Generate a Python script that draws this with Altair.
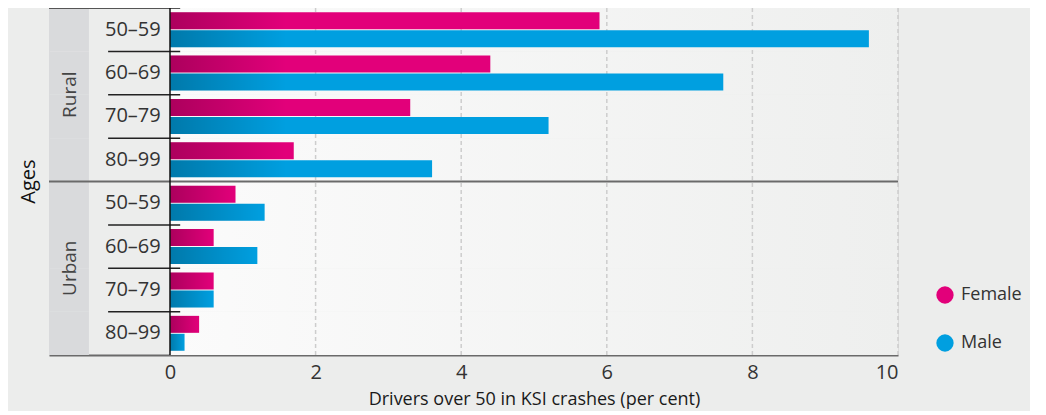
import altair as alt
import pandas as pd

# ---- data ----
groups = ["Rural", "Rural", "Rural", "Rural", "Urban", "Urban", "Urban", "Urban"]
ages = ["50–59", "60–69", "70–79", "80–99", "50–59", "60–69", "70–79", "80–99"]
female = [5.9, 4.4, 3.3, 1.7, 0.9, 0.6, 0.6, 0.4]
male = [9.6, 7.6, 5.2, 3.6, 1.3, 1.2, 0.6, 0.2]
genders = ["Female", "Male"]
x_ticks = [0, 2, 4, 6, 8, 10]
x_title = "Drivers over 50 in KSI crashes (per cent)"
y_title = "Ages"

# ---- layout constants (in x-scale units) ----
XMIN = -1.662
BAND_R = -1.113
AGE_X = -0.51
GROUP_X = -1.38
DIV_X1 = -0.85
DIV_X2 = 0.14
SHADE = 1.6

FONT = "Open Sans, sans-serif"
FS = 20

rows = [f"{g} {a}" for g, a in zip(groups, ages)]
rows_df = pd.DataFrame({"row": rows, "age": ages, "grp": groups})
bars_df = pd.DataFrame({
    "row": rows * 2,
    "gender": ["Female"] * len(rows) + ["Male"] * len(rows),
    "value": female + male,
})
grid_df = pd.DataFrame({"t": [t for t in x_ticks if t > 0]})
zero_df = pd.DataFrame({"t": [0]})
grp_df = pd.DataFrame({"row": [rows[2], rows[6]], "grp": [groups[0], groups[4]]})
div_df = pd.DataFrame({"row": [rows[i] for i in (1, 2, 3, 5, 6, 7)]})
sep_df = pd.DataFrame({"row": [rows[4]]})
top_df = pd.DataFrame({"row": [rows[0]]})

x_scale = alt.Scale(domain=[XMIN, 10], nice=False, zero=False)
y_scale = alt.Scale(domain=rows, paddingInner=0, paddingOuter=0)

x_axis = alt.Axis(
    values=x_ticks, format="d", grid=False, ticks=False, domainColor="#6A6A6A", domainWidth=2,
    labelFontSize=FS, labelColor="#333333", labelPadding=7, labelFont=FONT,
    title=x_title, titleFontSize=18, titleFontWeight="normal", titleColor="#1A1A1A",
    titleFont=FONT, titlePadding=8, titleX=485, titleAnchor="start", titleAlign="center",
)
y_axis = alt.Axis(
    labels=False, ticks=False, domain=False, grid=False, title=y_title,
    titleFontSize=FS, titleFontWeight="normal", titleColor="#111111", titleFont=FONT,
    titleX=-11, titleY=173, titleAngle=270,
)


def Y(**kw):
    return alt.Y("row:N", scale=y_scale, axis=y_axis, title=y_title, **kw)


def XQ(field, **kw):
    return alt.X(field, scale=x_scale, axis=x_axis, title=x_title, **kw)


bg_gradient = alt.LinearGradient(
    gradient="linear", x1=0, x2=1, y1=0, y2=0,
    stops=[alt.GradientStop(color="#FBFBFB", offset=0),
           alt.GradientStop(color="#EEEFEE", offset=1)],
)
shade_gradient = alt.LinearGradient(
    gradient="linear", x1=0, x2=1, y1=0, y2=0,
    stops=[alt.GradientStop(color="rgba(0,0,0,0.24)", offset=0),
           alt.GradientStop(color="rgba(0,0,0,0)", offset=1)],
)

bg = alt.Chart(rows_df).mark_rect(fill=bg_gradient).encode(
    y=Y(), x=alt.datum(0), x2=alt.datum(10))

band = alt.Chart(rows_df).mark_rect(fill="#D9DADC").encode(
    y=Y(), x=alt.datum(XMIN), x2=alt.datum(BAND_R))

grid = alt.Chart(grid_df).mark_rule(
    color="#CDCDCD", strokeWidth=1.5, strokeDash=[4, 3]).encode(x=XQ("t:Q"))

yoff = alt.YOffset("gender:N", sort=genders,
                   scale=alt.Scale(paddingInner=0.055, paddingOuter=0.236))

bar = alt.Chart(bars_df).mark_bar().encode(
    y=Y(),
    yOffset=yoff,
    x=XQ("value:Q", stack=None),
    color=alt.Color(
        "gender:N",
        scale=alt.Scale(domain=genders, range=["#E2007A", "#009FE0"]),
        legend=alt.Legend(
            title=None, orient="none", legendX=887, legendY=278,
            symbolType="circle", symbolSize=300, symbolStrokeWidth=0, symbolOpacity=1,
            labelFontSize=18, labelColor="#333333", labelFont=FONT,
            rowPadding=30, labelOffset=7, padding=0,
        ),
    ),
)

shade = alt.Chart(bars_df).transform_calculate(
    shade=f"min(datum.value, {SHADE})"
).mark_bar(fill=shade_gradient).encode(
    y=Y(), yOffset=yoff, x=XQ("shade:Q", stack=None))

age_text = alt.Chart(rows_df).mark_text(
    fontSize=FS, color="#333333", font=FONT, align="center", baseline="middle"
).encode(y=Y(), x=alt.datum(AGE_X), text="age:N")

grp_text = alt.Chart(grp_df).mark_text(
    fontSize=19, color="#444444", font=FONT, align="center", baseline="middle", angle=270
).encode(y=Y(bandPosition=0), x=alt.datum(GROUP_X), text="grp:N")

dividers = alt.Chart(div_df).mark_rule(color="#222222", strokeWidth=1.5).encode(
    y=Y(bandPosition=0), x=alt.datum(DIV_X1), x2=alt.datum(DIV_X2))

separator = alt.Chart(sep_df).mark_rule(color="#6A6A6A", strokeWidth=2).encode(
    y=Y(bandPosition=0), x=alt.datum(XMIN), x2=alt.datum(10))

topline = alt.Chart(top_df).mark_rule(color="#555555", strokeWidth=2).encode(
    y=Y(bandPosition=0), x=alt.datum(XMIN), x2=alt.datum(DIV_X2))

zero = alt.Chart(zero_df).mark_rule(color="#111111", strokeWidth=1.5).encode(
    x=XQ("t:Q"))

chart = alt.layer(
    bg, band, grid, bar, shade, age_text, grp_text, dividers, separator, topline, zero
).properties(
    width=849, height=347,
    autosize=alt.AutoSizeParams(type="none"),
    padding={"left": 41, "top": 0, "right": 132, "bottom": 56},
    background="#ECEDEC",
).configure_view(stroke=None).configure(font=FONT)

chart.save("out.html", embed_options={"renderer": "svg", "actions": False})
